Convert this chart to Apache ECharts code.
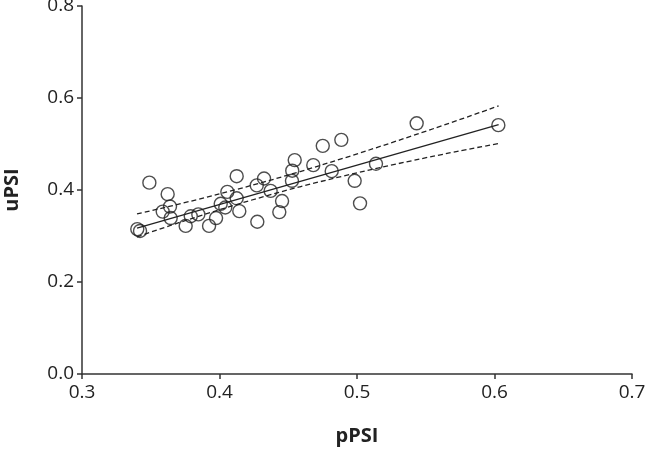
<!DOCTYPE html>
<html>
<head>
<meta charset="utf-8">
<script src="https://cdn.jsdelivr.net/npm/echarts@6/dist/echarts.min.js"></script>
<style>
  html, body { margin: 0; padding: 0; background: #fff; }
  #chart { width: 645px; height: 450px; }
</style>
</head>
<body>
<div id="chart"></div>
<script>
// observed points: [pPSI, uPSI]
const pPSI = [0.349, 0.4125, 0.4547, 0.4682, 0.4751, 0.4529, 0.4324, 0.4271, 0.4372, 0.4527,
  0.3623, 0.4057, 0.4125, 0.364, 0.4009, 0.4042, 0.3587, 0.4144, 0.4455, 0.4435,
  0.3645, 0.3846, 0.3791, 0.3975, 0.4275, 0.3754, 0.3924, 0.3402, 0.3422, 0.5434,
  0.6028, 0.4886, 0.4816, 0.5138, 0.4983, 0.5022];
const uPSI = [0.416, 0.430, 0.465, 0.454, 0.496, 0.442, 0.425, 0.410, 0.398, 0.420,
  0.391, 0.396, 0.382, 0.364, 0.370, 0.362, 0.353, 0.354, 0.376, 0.352,
  0.339, 0.347, 0.343, 0.339, 0.331, 0.322, 0.322, 0.315, 0.311, 0.545,
  0.541, 0.509, 0.441, 0.457, 0.420, 0.371];

// regression line and 95% band
const fitX = [0.340, 0.603];
const fitY = [0.317, 0.542];
const bandX = [0.340, 0.4585, 0.603];
const upperY = [0.348, 0.440, 0.583];
const lowerY = [0.298, 0.407, 0.501];

const xTicks = [0.3, 0.4, 0.5, 0.6, 0.7];
const yTicks = [0.0, 0.2, 0.4, 0.6, 0.8];

const zip = (a, b) => a.map((v, i) => [v, b[i]]);
const font = '"Open Sans", sans-serif';

let chart = echarts.init(document.getElementById('chart'));
chart.setOption({
  animation: false,
  grid: { left: 82, right: 13, top: 6, bottom: 76, containLabel: false, outerBoundsMode: 'none' },
  xAxis: {
    type: 'value', min: 0.3, max: 0.7, interval: 0.1,
    name: 'pPSI', nameLocation: 'middle', nameGap: 52,
    nameTextStyle: { fontFamily: font, fontSize: 20, fontWeight: 'bold', color: '#222' },
    axisLine: { lineStyle: { color: '#333', width: 1.5 } },
    axisTick: { show: true, length: 5, lineStyle: { color: '#333', width: 1.5 } },
    axisLabel: { fontFamily: font, fontSize: 19, color: '#222', margin: 9,
      formatter: v => v.toFixed(1) },
    splitLine: { show: false }
  },
  yAxis: {
    type: 'value', min: 0, max: 0.8, interval: 0.2,
    name: 'uPSI', nameLocation: 'middle', nameGap: 60,
    nameTextStyle: { fontFamily: font, fontSize: 20, fontWeight: 'bold', color: '#222' },
    axisLine: { show: true, lineStyle: { color: '#333', width: 1.5 } },
    axisTick: { show: true, length: 5, lineStyle: { color: '#333', width: 1.5 } },
    axisLabel: { fontFamily: font, fontSize: 19, color: '#222', margin: 8,
      formatter: v => v.toFixed(1) },
    splitLine: { show: false }
  },
  series: [
    {
      type: 'line', data: zip(fitX, fitY), symbol: 'none',
      lineStyle: { color: '#222', width: 1.3 }, z: 2
    },
    {
      type: 'line', data: zip(bandX, upperY), symbol: 'none', smooth: true,
      lineStyle: { color: '#222', width: 1.3, type: [5, 3] }, z: 2
    },
    {
      type: 'line', data: zip(bandX, lowerY), symbol: 'none', smooth: true,
      lineStyle: { color: '#222', width: 1.3, type: [5, 3] }, z: 2
    },
    {
      type: 'scatter', data: zip(pPSI, uPSI), symbol: 'circle', symbolSize: 13,
      itemStyle: { color: 'rgba(255,255,255,0)', borderColor: '#222', borderWidth: 1.4 },
      z: 3
    }
  ]
});
</script>
</body>
</html>
